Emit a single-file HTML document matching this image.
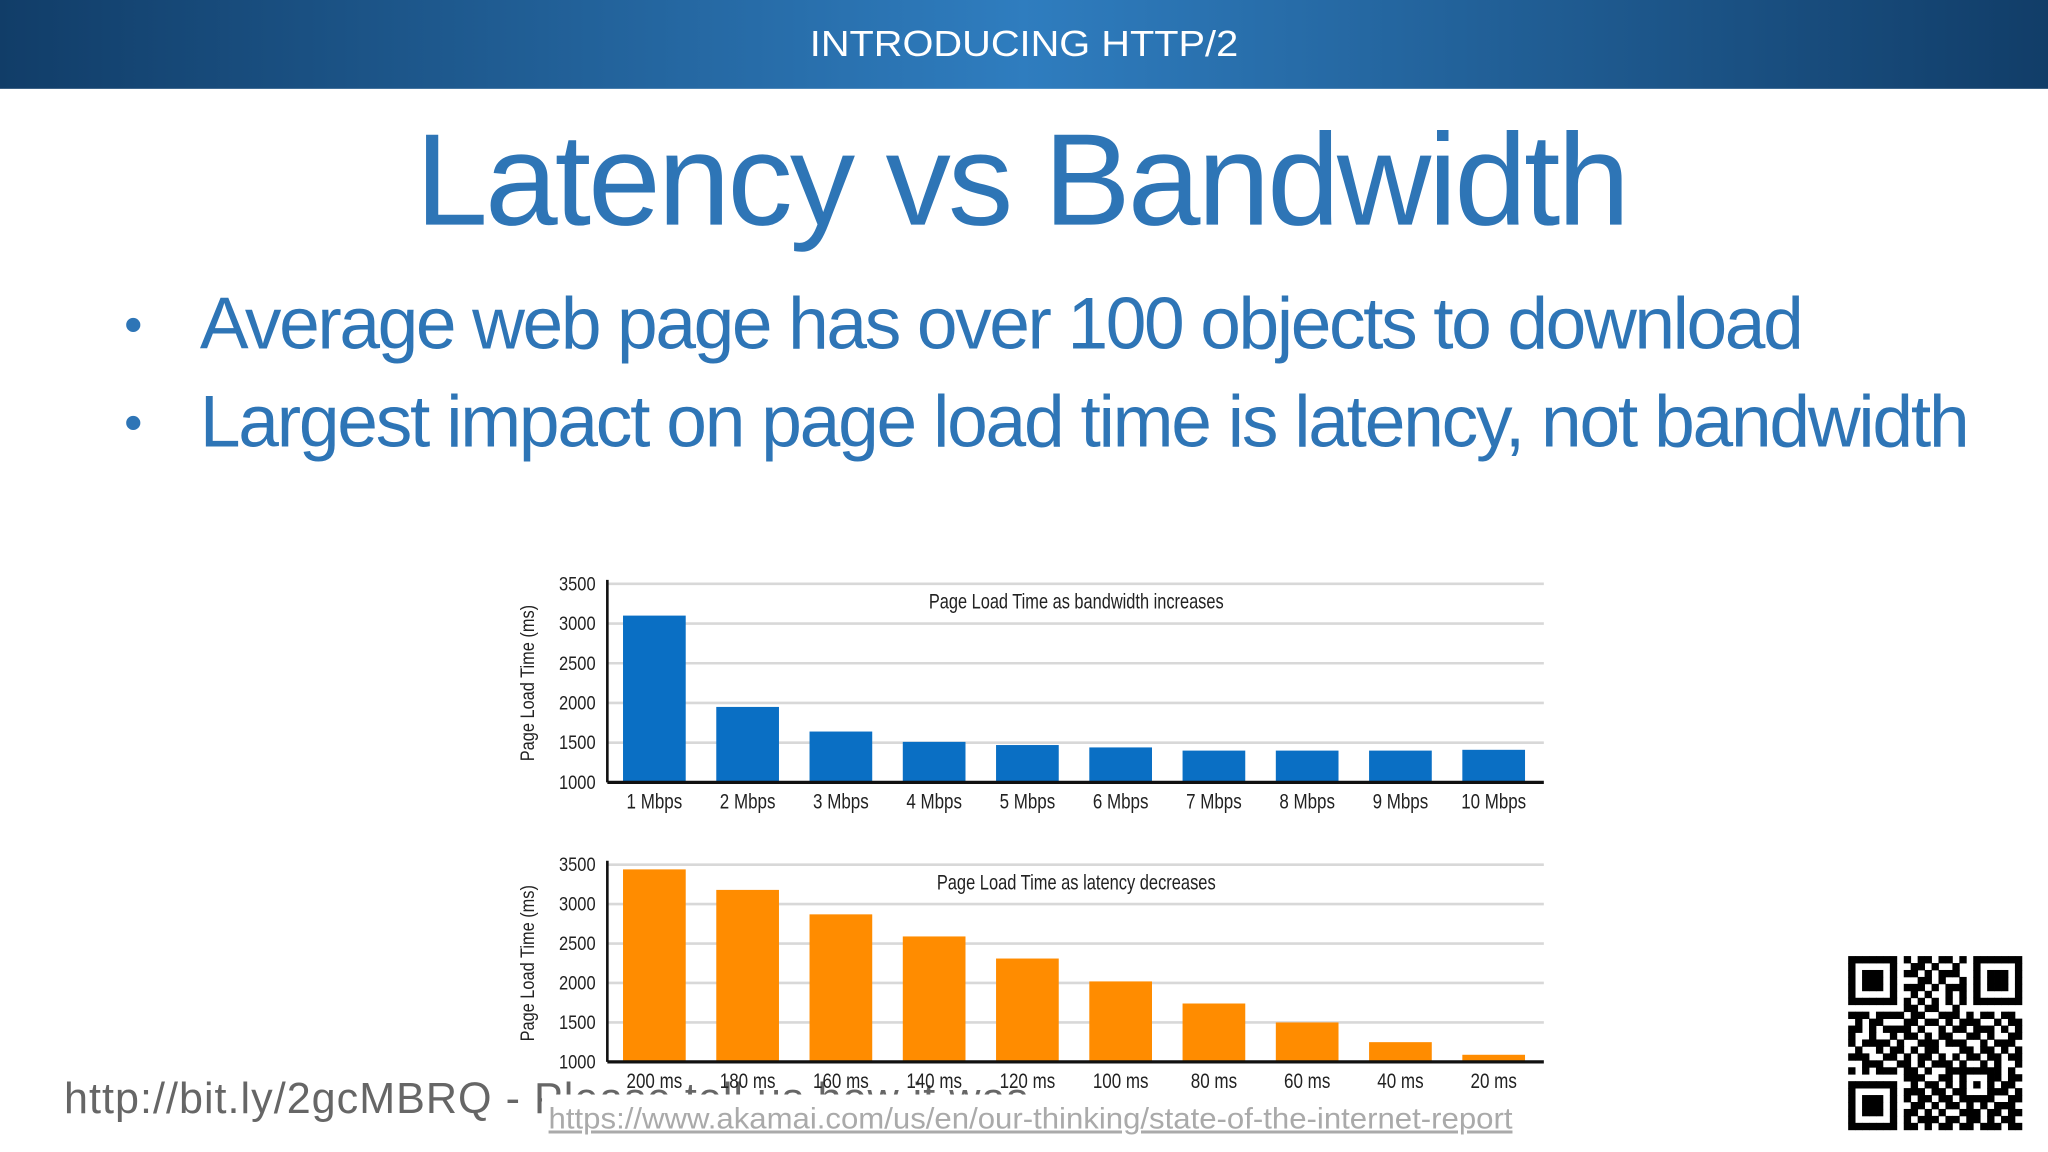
<!DOCTYPE html>
<html><head><meta charset="utf-8"><style>
html,body{margin:0;padding:0;background:#fff;}
svg{display:block;}
text{font-family:"Liberation Sans",sans-serif;}
.n{font-family:"Liberation Sans Narrow","Liberation Sans",sans-serif;}
</style></head><body>
<svg id="s" width="2048" height="1152" viewBox="0 0 1568 882" preserveAspectRatio="none">
<defs><linearGradient id="hg" x1="0" x2="1" y1="0" y2="0">
<stop offset="0" stop-color="#113d68"/><stop offset="0.5" stop-color="#2f7dbf"/><stop offset="1" stop-color="#113d68"/></linearGradient></defs>
<rect x="0" y="0" width="1568" height="68" fill="url(#hg)"/>
<text x="784" y="43" text-anchor="middle" font-size="28" fill="#fff" textLength="328" lengthAdjust="spacingAndGlyphs">INTRODUCING HTTP/2</text>
<text x="318" y="172" font-size="100" fill="#2e75b6" textLength="930">Latency vs Bandwidth</text>
<text x="95" y="262" font-size="40" fill="#2e75b6">•</text>
<text x="153" y="267" font-size="56" fill="#2e75b6" textLength="1228">Average web page has over 100 objects to download</text>
<text x="95" y="337" font-size="40" fill="#2e75b6">•</text>
<text x="153" y="342" font-size="56" fill="#2e75b6" textLength="1355">Largest impact on page load time is latency, not bandwidth</text>
<text x="49" y="852" font-size="33" fill="#666" textLength="738">http://bit.ly/2gcMBRQ - Please tell us how it was</text>
<rect x="415" y="838" width="750" height="36" fill="#fff"/>
<text class="n" x="420" y="864" font-size="23" fill="#aaa" text-decoration="underline" textLength="738" lengthAdjust="spacingAndGlyphs">https://www.akamai.com/us/en/our-thinking/state-of-the-internet-report</text>
<g id="c1"></g>
<g id="c2"></g>
<g id="qr"></g>
</svg>
<script>
const bwCategories=["1 Mbps","2 Mbps","3 Mbps","4 Mbps","5 Mbps","6 Mbps","7 Mbps","8 Mbps","9 Mbps","10 Mbps"];
const bwValues=[3100,1950,1640,1510,1470,1440,1400,1400,1400,1410];
const latCategories=["200 ms","180 ms","160 ms","140 ms","120 ms","100 ms","80 ms","60 ms","40 ms","20 ms"];
const latValues=[3440,3180,2870,2590,2310,2020,1740,1500,1250,1090];
const yTicks=[1000,1500,2000,2500,3000,3500];
const NS="http://www.w3.org/2000/svg";
function mk(tag,attrs,parent){const e=document.createElementNS(NS,tag);for(const k in attrs)e.setAttribute(k,attrs[k]);parent.appendChild(e);return e;}
function txt(parent,s,attrs,perChar){const t=mk('text',attrs,parent);t.textContent=s;t.setAttribute('class','n');t.setAttribute('textLength',(s.length*perChar).toFixed(1));t.setAttribute('lengthAdjust','spacingAndGlyphs');return t;}
function chart(g,top,bottom,cats,vals,color,title){
  const x0=465,x1=1182,yMin=1000,yMax=3500;
  const y=v=>bottom-(v-yMin)/(yMax-yMin)*(bottom-top);
  const step=71.4,bw=48,xs=i=>477+i*step;
  yTicks.forEach(t=>{
    if(t>yMin){const l=mk('line',{x1:x0,x2:x1,y1:y(t),y2:y(t),stroke:'#d8d8d8','stroke-width':2},g);
    }
    const tx=txt(g,String(t),{x:456,y:y(t)+5,'font-size':15,'text-anchor':'end',fill:'#222'},7);
    
  });
  vals.forEach((v,i)=>{
    const r=mk('rect',{x:xs(i),y:y(v),width:bw,height:bottom-y(v),fill:color},g);
    
    
    const t=txt(g,cats[i],{x:xs(i)+bw/2,y:bottom+20,'font-size':16,'text-anchor':'middle',fill:'#222'},7.1);
    
  });
  const ax=mk('line',{x1:x0,x2:x1,y1:bottom,y2:bottom,stroke:'#111','stroke-width':2.5},g);
  
  const ay=mk('line',{x1:x0,x2:x0,y1:top-3,y2:bottom,stroke:'#111','stroke-width':2},g);
  
  const tt=txt(g,title,{x:824,y:top+19,'font-size':16,'text-anchor':'middle',fill:'#222'},6.1);
  
  const cy=(top+bottom)/2;
  const yt=txt(g,'Page Load Time (ms)',{x:0,y:0,'font-size':15,'text-anchor':'middle',fill:'#222',transform:`translate(409,${cy}) rotate(-90)`},6.3);
  
}
chart(document.getElementById('c1'),447,599,bwCategories,bwValues,'#0a6fc4','Page Load Time as bandwidth increases');
chart(document.getElementById('c2'),662,813,latCategories,latValues,'#ff8c00','Page Load Time as latency decreases');
(function(){
  const g=document.getElementById('qr');const N=25,s=133/N,ox=1415,oy=732;
  const rows=["1111111010110110101111111","1000001001101001001000001","1011101011010111001011101","1011101000110100101011101","1011101011101011101011101","1000001001010010101000001","1111111010101010101111111","0000000011011001000000000","1110111101100111010110110","0101100011011010111001011","1101011110100101101110101","1001001011010110011010011","1011110100111011100101110","0100101101011000110110101","1110011010110101011011011","0011100110101110100101001","1010111011010011111111010","0000000011100110100011011","1111111001011010101010110","1000001011101101100011101","1011101010110110111110011","1011101001101011010101110","1011101011010100111011011","1000001010111011011010110","1111111011010110110111011"];
  rows.forEach((r,j)=>{for(let i=0;i<N;i++)if(r[i]==='1'){mk('rect',{x:ox+i*s,y:oy+j*s,width:s+0.3,height:s+0.3,fill:'#000'},g);}});
})();
</script>
</body></html>
